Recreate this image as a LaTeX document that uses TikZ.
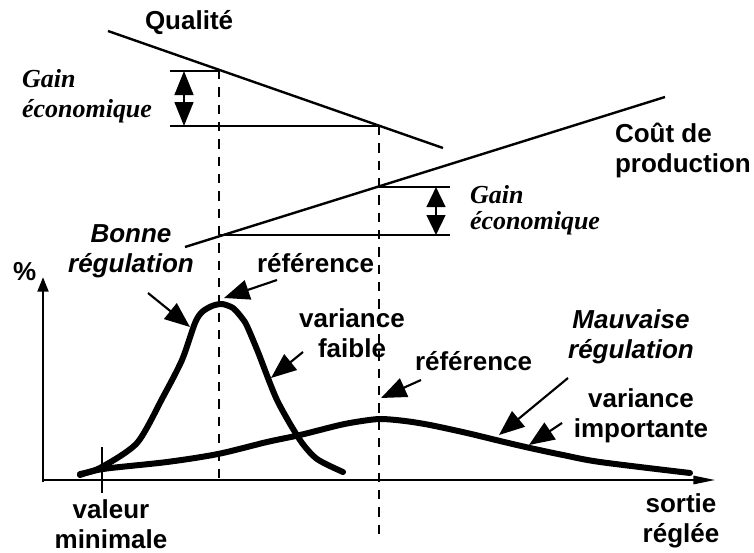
\documentclass[tikz,border=0pt]{standalone}
\usepackage{fontspec}
\setmainfont{Liberation Sans}
\newfontfamily\timesf{Liberation Serif}
\usetikzlibrary{arrows.meta}
\newcommand{\twol}[3][c]{\begin{tabular}[t]{@{}#1@{}}#2\\#3\end{tabular}}
\newcommand{\twolsp}[3]{\begin{tabular}[t]{@{}l@{}}#1\\[#3]#2\end{tabular}}
\begin{document}
\begin{tikzpicture}[x=0.75pt,y=-0.75pt,
  lbl/.style={inner sep=0pt, outer sep=0pt, font=\fontsize{19.5pt}{22.5pt}\selectfont\bfseries},
  ilbl/.style={inner sep=0pt, outer sep=0pt, font=\fontsize{19.5pt}{22.5pt}\selectfont\bfseries\itshape},
  tlbl/.style={inner sep=0pt, outer sep=0pt, font=\fontsize{19.5pt}{22.5pt}\selectfont\timesf\bfseries\itshape},
  guide/.style={line width=1.8pt},
  dashline/.style={line width=2.2pt, dash pattern=on 7pt off 6pt},
  ptr/.style={line width=1.6pt, -{Triangle[length=19pt,width=15pt]}},
  dbl/.style={line width=1.8pt, {Triangle[length=18pt,width=14pt]}-{Triangle[length=18pt,width=14pt]}},
  dbls/.style={line width=1.8pt, {Triangle[length=15pt,width=14pt]}-{Triangle[length=15pt,width=14pt]}},
  curve/.style={line width=4.5pt, line join=round, line cap=round},
  axis/.style={line width=2.2pt}
]
\useasboundingbox (0,0) rectangle (754,553);

% top graph
\coordinate (qa) at (108,31);
\coordinate (qb) at (443,148);
\coordinate (ca) at (185,247);
\coordinate (cb) at (665,97);
\draw[guide] (qa) -- (qb);
\draw[guide] (ca) -- (cb);

\coordinate (h1a) at (170,71);  \coordinate (h1b) at (219,71);
\coordinate (h2a) at (170,126); \coordinate (h2b) at (379,126);
\coordinate (h3a) at (379,187); \coordinate (h3b) at (450,187);
\coordinate (h4a) at (219,235); \coordinate (h4b) at (450,235);
\draw[guide] (h1a) -- (h1b);
\draw[guide] (h2a) -- (h2b);
\draw[guide] (h3a) -- (h3b);
\draw[guide] (h4a) -- (h4b);

\coordinate (g1a) at (184,71);  \coordinate (g1b) at (184,126);
\coordinate (g2a) at (436,187); \coordinate (g2b) at (436,235);
\draw[dbl] (g1a) -- (g1b);
\draw[dbls] (g2a) -- (g2b);

% dashed references
\coordinate (d1a) at (219,70);  \coordinate (d1b) at (219,480);
\coordinate (d2a) at (379,126); \coordinate (d2b) at (379,535);
\draw[dashline] (d1a) -- (d1b);
\draw[dashline] (d2a) -- (d2b);

% axes
\coordinate (o) at (43,480);
\coordinate (xe) at (716,480);
\coordinate (ye) at (43,277);
\draw[axis, -{Triangle[length=17pt,width=6pt]}] (o) -- (xe);
\draw[axis, -{Triangle[length=11pt,width=8pt]}] (43,482) -- (ye);
\coordinate (ta) at (102,447); \coordinate (tb) at (102,493);
\draw[axis] (ta) -- (tb);

% curves
\draw[curve] plot[smooth, tension=0.45] coordinates {
 (80,474) (100,468) (137,443) (163,397) (182,360) (195,323) (202,312)
 (212,306) (222,304) (233,308) (242,318) (247,326) (258,352) (277,400)
 (300,440) (317,459) (343,472)};
\draw[curve] plot[smooth, tension=0.5] coordinates {
 (80,475) (103,469) (167,462) (218,454) (267,442) (300,435) (340,425)
 (362,421) (381,419) (405,421) (430,425) (467,433) (500,441) (530,448)
 (563,455) (600,462) (690,473)};

% pointer arrows
\draw[ptr] (148,293) -- (190,327);
\draw[ptr] (277,280) -- (224,298);
\draw[ptr] (303,352) -- (271,378);
\draw[ptr] (421,380) -- (381,398);
\draw[ptr] (568,378) -- (499,435);
\draw[ptr] (562,423) -- (529,445);

% labels
\node[lbl, anchor=base west] (qual) at (145,30) {Qualité};
\node[tlbl, anchor=base west] (gain1) at (22,87) {\twolsp{Gain}{économique}{0pt}};
\node[tlbl, anchor=base west] (gain2) at (470,203) {\twolsp{Gain}{économique}{-3pt}};
\node[lbl, anchor=base west] (cout) at (615,142) {\twol[l]{Coût de}{production}};
\node[ilbl, anchor=base] (bonne) at (131,242) {\twol{Bonne}{régulation}};
\node[lbl, anchor=base west] (pct) at (13,280) {\%};
\node[lbl, anchor=base west] (ref1) at (257,272) {référence};
\node[lbl, anchor=base] (vf) at (352,327) {\twol{variance}{faible}};
\node[lbl, anchor=base west] (ref2) at (415,370) {référence};
\node[ilbl, anchor=base] (mauv) at (631,328) {\twol{Mauvaise}{régulation}};
\node[lbl, anchor=base] (vi) at (641,407) {\twol{variance}{importante}};
\node[lbl, anchor=base] (sortie) at (681,512) {\twol{sortie}{réglée}};
\node[lbl, anchor=base] (valmin) at (111,518) {\twol{valeur}{minimale}};
\end{tikzpicture}
\end{document}
